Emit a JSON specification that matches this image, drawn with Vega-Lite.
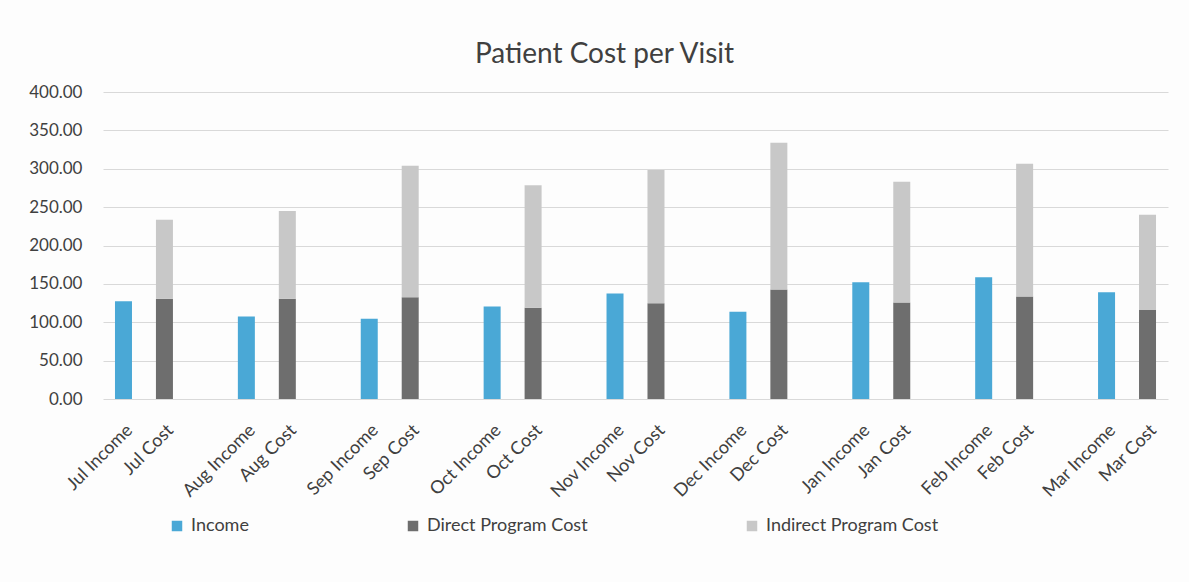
{
  "$schema": "https://vega.github.io/schema/vega-lite/v6.json",
  "width": 1065,
  "height": 307,
  "autosize": {"type": "none"},
  "padding": {"left": 103, "top": 92, "right": 21, "bottom": 183},
  "background": "#fdfdfd",
  "title": {
    "text": "Patient Cost per Visit",
    "fontSize": 28,
    "font": "Lato",
    "fontWeight": "normal",
    "color": "#404040",
    "anchor": "middle",
    "dx": -31,
    "offset": 14
  },
  "config": {
    "view": {"stroke": null},
    "font": "Lato"
  },
  "data": {
    "values": [
      {"slot": "Jul Income", "series": "Income", "value": 127.5},
      {"slot": "Jul Cost", "series": "Direct Program Cost", "value": 130.5},
      {"slot": "Jul Cost", "series": "Indirect Program Cost", "value": 103.2},
      {"slot": "Aug Income", "series": "Income", "value": 107.5},
      {"slot": "Aug Cost", "series": "Direct Program Cost", "value": 130.5},
      {"slot": "Aug Cost", "series": "Indirect Program Cost", "value": 114.5},
      {"slot": "Sep Income", "series": "Income", "value": 104.4},
      {"slot": "Sep Cost", "series": "Direct Program Cost", "value": 132.7},
      {"slot": "Sep Cost", "series": "Indirect Program Cost", "value": 171.1},
      {"slot": "Oct Income", "series": "Income", "value": 120.5},
      {"slot": "Oct Cost", "series": "Direct Program Cost", "value": 118.8},
      {"slot": "Oct Cost", "series": "Indirect Program Cost", "value": 159.7},
      {"slot": "Nov Income", "series": "Income", "value": 137.5},
      {"slot": "Nov Cost", "series": "Direct Program Cost", "value": 124.9},
      {"slot": "Nov Cost", "series": "Indirect Program Cost", "value": 173.6},
      {"slot": "Dec Income", "series": "Income", "value": 113.6},
      {"slot": "Dec Cost", "series": "Direct Program Cost", "value": 142.7},
      {"slot": "Dec Cost", "series": "Indirect Program Cost", "value": 191.3},
      {"slot": "Jan Income", "series": "Income", "value": 152.2},
      {"slot": "Jan Cost", "series": "Direct Program Cost", "value": 125.7},
      {"slot": "Jan Cost", "series": "Indirect Program Cost", "value": 157.3},
      {"slot": "Feb Income", "series": "Income", "value": 158.7},
      {"slot": "Feb Cost", "series": "Direct Program Cost", "value": 133.5},
      {"slot": "Feb Cost", "series": "Indirect Program Cost", "value": 173.0},
      {"slot": "Mar Income", "series": "Income", "value": 139.0},
      {"slot": "Mar Cost", "series": "Direct Program Cost", "value": 116.0},
      {"slot": "Mar Cost", "series": "Indirect Program Cost", "value": 124.0}
    ]
  },
  "mark": {"type": "bar", "size": 17},
  "encoding": {
    "x": {
      "field": "slot",
      "type": "nominal",
      "scale": {
        "domain": ["Jul Income", "Jul Cost", "gap1", "Aug Income", "Aug Cost", "gap2", "Sep Income", "Sep Cost", "gap3", "Oct Income", "Oct Cost", "gap4", "Nov Income", "Nov Cost", "gap5", "Dec Income", "Dec Cost", "gap6", "Jan Income", "Jan Cost", "gap7", "Feb Income", "Feb Cost", "gap8", "Mar Income", "Mar Cost"],
        "paddingInner": 0,
        "paddingOuter": 0
      },
      "axis": {
        "title": null,
        "labelAngle": -45,
        "labelFontSize": 18,
        "labelColor": "#404040",
        "labelExpr": "indexof(datum.value, 'gap') == 0 ? '' : datum.value",
        "ticks": false,
        "domain": false,
        "labelPadding": 22
      }
    },
    "y": {
      "field": "value",
      "type": "quantitative",
      "stack": "zero",
      "scale": {"domain": [0, 400], "nice": false},
      "axis": {
        "title": null,
        "values": [0, 50, 100, 150, 200, 250, 300, 350, 400],
        "format": ".2f",
        "labelFontSize": 17,
        "labelColor": "#404040",
        "labelPadding": 21,
        "ticks": false,
        "domain": false,
        "gridColor": "#d9d9d9",
        "gridWidth": 1
      }
    },
    "color": {
      "field": "series",
      "type": "nominal",
      "scale": {
        "domain": ["Income", "Direct Program Cost", "Indirect Program Cost"],
        "range": ["#4aa8d6", "#6e6e6e", "#c8c8c8"]
      },
      "legend": {
        "title": null,
        "orient": "none",
        "legendX": 65,
        "legendY": 425,
        "direction": "horizontal",
        "columns": 3,
        "columnPadding": 155,
        "symbolType": "square",
        "symbolSize": 110,
        "symbolStrokeWidth": 0,
        "labelFontSize": 18,
        "labelColor": "#404040",
        "labelOffset": 5,
        "labelLimit": 300
      }
    },
    "order": {"field": "series", "type": "nominal", "sort": "ascending"}
  }
}
